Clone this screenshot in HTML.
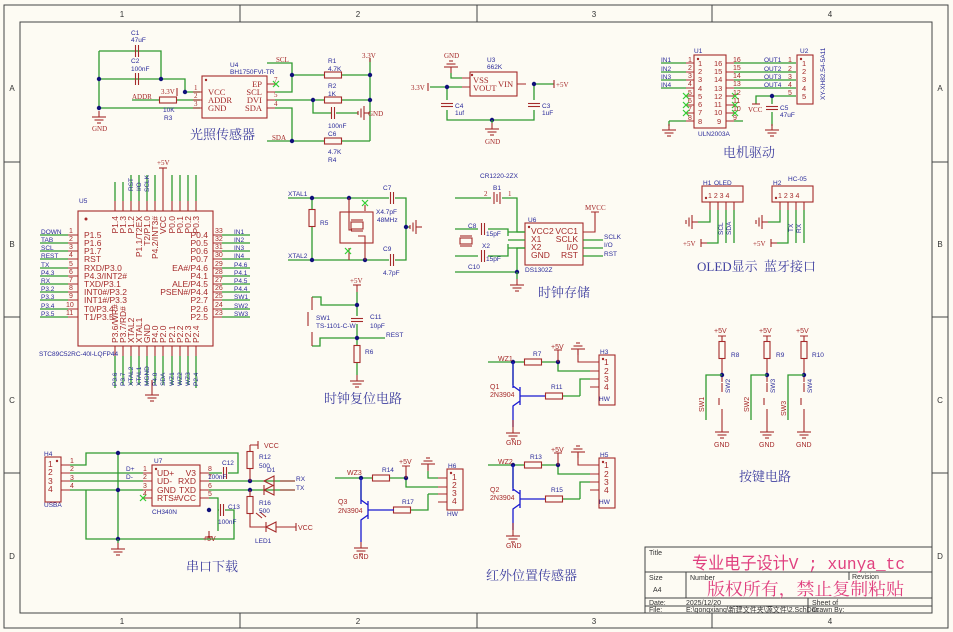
<!DOCTYPE html>
<html><head><meta charset="utf-8"><style>
html,body{margin:0;padding:0;background:#fdfbf3;}
svg{display:block}
.w{stroke:#2f9a2f;stroke-width:1.3;fill:none}
.r{stroke:#a52a2a;stroke-width:1.1;fill:none}
.rb{stroke:#a52a2a;stroke-width:1.1;fill:#fdfbf3}
.bl{stroke:#1a1ad0;stroke-width:1.3;fill:none}
text{font-family:"Liberation Sans","Noto Sans CJK SC",sans-serif}
.lb{fill:#2a2a9a;font-size:6.5px}
.pn{fill:#a52a2a;font-size:8.5px;font-family:"Liberation Serif",serif}
.ps{fill:#a52a2a;font-size:7.5px;font-family:"Liberation Serif",serif}
.pm{fill:#a52a2a;font-size:7px;font-family:"Liberation Serif",serif}
.nt{fill:#a52a2a;font-size:7px;font-family:"Liberation Serif",serif}
.ttl{fill:#4040a0;font-size:13px;font-family:"Liberation Serif","Noto Serif CJK SC",serif}
.fr{fill:#333;font-size:8px;font-family:"Liberation Serif",serif}
.x{stroke:#3c3;stroke-width:1.2}
</style></head><body>
<svg width="953" height="632" viewBox="0 0 953 632" xmlns="http://www.w3.org/2000/svg">
<defs>
<g id="gnd"><line class="r" x1="0" y1="-6" x2="0" y2="0"/><line class="r" x1="-7" y1="0" x2="7" y2="0"/><line class="r" x1="-4.5" y1="3" x2="4.5" y2="3"/><line class="r" x1="-2" y1="6" x2="2" y2="6"/></g>
<g id="gndl"><line class="r" x1="6" y1="0" x2="0" y2="0"/><line class="r" x1="0" y1="-7" x2="0" y2="7"/><line class="r" x1="-3" y1="-4.5" x2="-3" y2="4.5"/><line class="r" x1="-6" y1="-2" x2="-6" y2="2"/></g>
<g id="gndu"><line class="r" x1="0" y1="6" x2="0" y2="0"/><line class="r" x1="-7" y1="0" x2="7" y2="0"/><line class="r" x1="-4.5" y1="-3" x2="4.5" y2="-3"/><line class="r" x1="-2" y1="-6" x2="2" y2="-6"/></g>
<g id="hr"><rect class="rb" x="-8.5" y="-3" width="17" height="6"/></g>
<g id="vr"><rect class="rb" x="-3" y="-8.5" width="6" height="17"/></g>
<g id="hc"><line class="r" x1="-1.5" y1="-6" x2="-1.5" y2="6"/><line class="r" x1="1.5" y1="-6" x2="1.5" y2="6"/></g>
<g id="vc"><line class="r" x1="-6" y1="-1.5" x2="6" y2="-1.5"/><line class="r" x1="-6" y1="1.5" x2="6" y2="1.5"/></g>
<circle id="j" r="2.2" fill="#10107a"/>
<g id="xx"><line class="x" x1="-3" y1="-3" x2="3" y2="3"/><line class="x" x1="-3" y1="3" x2="3" y2="-3"/></g>
</defs>
<!-- frame -->
<rect x="4" y="5" width="944" height="623" fill="none" stroke="#444" stroke-width="1"/>
<rect x="20" y="22" width="912" height="591" fill="none" stroke="#444" stroke-width="1"/>
<g stroke="#444" stroke-width="1">
<line x1="240" y1="5" x2="240" y2="22"/><line x1="477" y1="5" x2="477" y2="22"/><line x1="712" y1="5" x2="712" y2="22"/>
<line x1="240" y1="613" x2="240" y2="628"/><line x1="477" y1="613" x2="477" y2="628"/><line x1="712" y1="613" x2="712" y2="628"/>
<line x1="4" y1="162" x2="20" y2="162"/><line x1="4" y1="317" x2="20" y2="317"/><line x1="4" y1="473" x2="20" y2="473"/>
<line x1="932" y1="162" x2="948" y2="162"/><line x1="932" y1="317" x2="948" y2="317"/><line x1="932" y1="473" x2="948" y2="473"/>
</g>
<g class="fr" text-anchor="middle">
<text x="122" y="17">1</text><text x="358" y="17">2</text><text x="594" y="17">3</text><text x="830" y="17">4</text>
<text x="122" y="624">1</text><text x="358" y="624">2</text><text x="594" y="624">3</text><text x="830" y="624">4</text>
<text x="12" y="91">A</text><text x="12" y="247">B</text><text x="12" y="403">C</text><text x="12" y="559">D</text>
<text x="940" y="91">A</text><text x="940" y="247">B</text><text x="940" y="403">C</text><text x="940" y="559">D</text>
</g>

<!-- ===== Light sensor ===== -->
<path class="w" d="M99,51H161V79M99,51V108H200M99,79H185V92H200M132,100H160M177,100H200"/>
<use href="#hc" x="137" y="51"/><use href="#hc" x="137" y="79"/>
<use href="#j" x="99" y="79"/><use href="#j" x="161" y="79"/><use href="#j" x="99" y="108"/><use href="#j" x="185" y="92"/>
<use href="#gnd" x="99" y="117"/><text class="nt" x="92" y="131">GND</text>
<text class="lb" x="131" y="35">C1</text><text class="lb" x="131" y="42">47uF</text>
<text class="lb" x="131" y="63">C2</text><text class="lb" x="131" y="71">100nF</text>
<text class="nt" x="132" y="99">ADDR</text>
<text class="nt" x="161" y="94">3.3V</text><line class="r" x1="177" y1="88" x2="177" y2="96"/>
<use href="#hr" x="168" y="100"/><text class="lb" x="163" y="112">10K</text><text class="lb" x="164" y="120">R3</text>
<rect class="r" x="202" y="76" width="65" height="42"/><circle cx="206" cy="80" r="1.2" fill="#a52a2a"/>
<path class="r" d="M193,92H202M193,100H202M193,108H202M267,84H275M267,92H275M267,100H275M267,108H275"/>
<text class="pm" x="194" y="90">1</text><text class="pm" x="194" y="98">2</text><text class="pm" x="194" y="106">3</text>
<text class="pn" x="208" y="95">VCC</text><text class="pn" x="208" y="103">ADDR</text><text class="pn" x="208" y="111">GND</text>
<text class="pn" x="262" y="87" text-anchor="end">EP</text><text class="pn" x="262" y="95" text-anchor="end">SCL</text><text class="pn" x="262" y="103" text-anchor="end">DVI</text><text class="pn" x="262" y="111" text-anchor="end">SDA</text>
<text class="pm" x="274" y="82">7</text><text class="pm" x="274" y="97">5</text><text class="pm" x="274" y="106">4</text>
<use href="#xx" x="276" y="84"/>
<text class="lb" x="230" y="67">U4</text><text class="lb" x="230" y="74">BH1750FVI-TR</text>
<path class="w" d="M267,63H292V92H275M292,75H325M342,75H370M275,100H325M342,100H370M313,100V113H331M336,113H358M267,141H325M342,141H370M292,141V108H275M370,58V141"/>
<use href="#hr" x="333" y="75"/><use href="#hr" x="333" y="100"/><use href="#hr" x="333" y="141"/><use href="#hc" x="333" y="113"/>
<use href="#j" x="292" y="75"/><use href="#j" x="370" y="75"/><use href="#j" x="313" y="100"/><use href="#j" x="370" y="100"/><use href="#j" x="292" y="141"/>
<use href="#gndl" x="364" y="113"/><text class="nt" x="368" y="116">GND</text>
<text class="nt" x="276" y="62">SCL</text><text class="nt" x="272" y="140">SDA</text>
<text class="nt" x="362" y="58">3.3V</text><line class="r" x1="370" y1="58" x2="370" y2="62"/>
<text class="lb" x="328" y="63">R1</text><text class="lb" x="328" y="71">4.7K</text>
<text class="lb" x="328" y="88">R2</text><text class="lb" x="328" y="96">1K</text>
<text class="lb" x="328" y="128">100nF</text><text class="lb" x="328" y="136">C6</text>
<text class="lb" x="328" y="154">4.7K</text><text class="lb" x="328" y="162">R4</text>
<text class="ttl" x="190" y="139">光照传感器</text>

<!-- ===== U3 regulator ===== -->
<use href="#gndu" x="451" y="67"/><text class="nt" x="444" y="58">GND</text>
<path class="w" d="M451,73V78H462M430,87H462M447,87V100M447,110V120H534V110M534,100V84H554"/>
<path class="r" d="M462,78H470M462,87H470M517,84H526"/>
<line class="r" x1="428" y1="83" x2="428" y2="91"/><text class="nt" x="411" y="90">3.3V</text>
<use href="#vc" x="447" y="105"/><use href="#vc" x="534" y="105"/>
<use href="#j" x="447" y="87"/><use href="#j" x="534" y="84"/><use href="#j" x="492" y="120"/>
<use href="#gnd" x="492" y="129"/><line class="w" x1="492" y1="120" x2="492" y2="123"/><text class="nt" x="485" y="144">GND</text>
<rect class="r" x="470" y="72" width="47" height="24"/><circle cx="472" cy="75" r="1.2" fill="#a52a2a"/>
<text class="pn" x="473" y="83">VSS</text><text class="pn" x="473" y="91">VOUT</text><text class="pn" x="498" y="87">VIN</text>
<line class="r" x1="554" y1="80" x2="554" y2="88"/><text class="nt" x="556" y="87">+5V</text>
<text class="lb" x="487" y="62">U3</text><text class="lb" x="487" y="69">662K</text>
<text class="lb" x="542" y="108">C3</text><text class="lb" x="542" y="115">1uF</text>
<text class="lb" x="455" y="108">C4</text><text class="lb" x="455" y="115">1uf</text>

<!-- ===== ULN2003 ===== -->
<rect class="r" x="694" y="55" width="32" height="73"/><circle cx="698" cy="59" r="1.2" fill="#a52a2a"/>
<path class="w" d="M661,63H686M661,72H686M661,80H686M661,88H686M669,121H686M734,63H796M734,72H796M734,80H796M734,88H796M734,121H743M756,104V96H796"/>
<path class="r" d="M686,63H694M686,72H694M686,80H694M686,88H694M686,96H694M686,105H694M686,113H694M686,121H694M726,63H734M726,72H734M726,80H734M726,88H734M726,96H734M726,105H734M726,113H734M726,121H734"/>
<use href="#xx" x="686" y="96"/><use href="#xx" x="686" y="105"/><use href="#xx" x="686" y="113"/>
<use href="#xx" x="735" y="96"/><use href="#xx" x="735" y="105"/><use href="#xx" x="735" y="113"/>
<path class="w" d="M669,121V126"/><use href="#gnd" x="669" y="130"/>
<g class="pm"><text x="688" y="62">1</text><text x="688" y="70">2</text><text x="688" y="78">3</text><text x="688" y="86">4</text><text x="688" y="95">5</text><text x="688" y="103">6</text><text x="688" y="111">7</text><text x="688" y="120">8</text>
<text x="733" y="62">16</text><text x="733" y="70">15</text><text x="733" y="78">14</text><text x="733" y="86">13</text><text x="733" y="95">12</text><text x="733" y="103">11</text><text x="733" y="111">10</text><text x="733" y="120">9</text></g>
<g class="ps"><text x="698" y="66">1</text><text x="698" y="74">2</text><text x="698" y="82">3</text><text x="698" y="91">4</text><text x="698" y="99">5</text><text x="698" y="107">6</text><text x="698" y="115">7</text><text x="698" y="124">8</text>
<text x="714" y="66">16</text><text x="714" y="74">15</text><text x="714" y="82">14</text><text x="714" y="91">13</text><text x="714" y="99">12</text><text x="714" y="107">11</text><text x="714" y="115">10</text><text x="717" y="124">9</text></g>
<g class="lb"><text x="661" y="62">IN1</text><text x="661" y="71">IN2</text><text x="661" y="79">IN3</text><text x="661" y="87">IN4</text>
<text x="764" y="62">OUT1</text><text x="764" y="71">OUT2</text><text x="764" y="79">OUT3</text><text x="764" y="87">OUT4</text>
<text x="694" y="53">U1</text><text x="698" y="136">ULN2003A</text><text x="800" y="53">U2</text></g>
<rect class="r" x="797" y="55" width="16" height="49"/><circle cx="801" cy="59" r="1.2" fill="#a52a2a"/>
<g class="pm"><text x="788" y="62">1</text><text x="788" y="71">2</text><text x="788" y="79">3</text><text x="788" y="87">4</text><text x="788" y="95">5</text></g>
<g class="ps"><text x="802" y="66">1</text><text x="802" y="74">2</text><text x="802" y="82">3</text><text x="802" y="91">4</text><text x="802" y="99">5</text></g>
<path class="w" d="M772,96V104M772,112V126"/><use href="#vc" x="772" y="108"/><use href="#j" x="772" y="96"/><use href="#gnd" x="772" y="130"/>
<line class="r" x1="752" y1="104" x2="760" y2="104"/><text class="nt" x="748" y="112">VCC</text>
<text class="lb" x="780" y="110">C5</text><text class="lb" x="780" y="117">47uF</text>
<text class="lb" transform="translate(825,100) rotate(-90)">XY-XH82.54-5A11</text>
<text class="ttl" x="723" y="157">电机驱动</text>

<!-- ===== DS1302 ===== -->
<text class="lb" x="480" y="178">CR1220-2ZX</text><text class="lb" x="493" y="190">B1</text>
<path class="w" d="M455,198H491M502,198H517V232H525M455,272H517V248H525"/>
<line class="r" x1="494" y1="192" x2="494" y2="204"/><line class="r" x1="497" y1="194" x2="497" y2="202"/><line class="r" x1="500" y1="192" x2="500" y2="204"/>
<text class="pm" x="484" y="196">2</text><text class="pm" x="508" y="196">1</text>
<rect class="r" x="525" y="223" width="58" height="42"/><circle cx="529" cy="227" r="1.2" fill="#a52a2a"/>
<g class="pn"><text x="531" y="234">VCC2</text><text x="531" y="242">X1</text><text x="531" y="250">X2</text><text x="531" y="258">GND</text>
<text x="578" y="234" text-anchor="end">VCC1</text><text x="578" y="242" text-anchor="end">SCLK</text><text x="578" y="250" text-anchor="end">I/O</text><text x="578" y="258" text-anchor="end">RST</text></g>
<path class="w" d="M583,240H603M583,248H603M583,256H603M508,232H525M508,240H525M508,248H525"/>
<path class="r" d="M583,232H595V212M591,212H599"/>
<text class="nt" x="585" y="210">MVCC</text>
<g class="lb"><text x="604" y="239">SCLK</text><text x="604" y="247">I/O</text><text x="604" y="256">RST</text><text x="528" y="222">U6</text><text x="525" y="272">DS1302Z</text>
<text x="468" y="228">C8</text><text x="486" y="236">15pF</text><text x="486" y="261">15pF</text><text x="468" y="269">C10</text><text x="482" y="248">X2</text></g>
<path class="w" d="M455,229H478M488,229H508V236M455,256H478M488,256H508V244"/>
<use href="#hc" x="483" y="229"/><use href="#hc" x="483" y="256"/>
<rect class="rb" x="460" y="238" width="12" height="6"/><line class="r" x1="460" y1="236" x2="472" y2="236"/><line class="r" x1="460" y1="246" x2="472" y2="246"/>
<use href="#j" x="517" y="272"/><path class="w" d="M517,272V279"/><use href="#gnd" x="517" y="285"/>
<text class="ttl" x="538" y="297">时钟存储</text>

<!-- OLED / HC-05 -->
<rect class="r" x="702" y="186" width="41" height="16"/><circle cx="706" cy="198" r="1.2" fill="#a52a2a"/>
<rect class="r" x="772" y="186" width="41" height="16"/><circle cx="776" cy="198" r="1.2" fill="#a52a2a"/>
<g class="pm"><text x="708" y="198">1 2 3 4</text><text x="778" y="198">1 2 3 4</text></g>
<path class="r" d="M710,202V210M718,202V210M726,202V210M734,202V210M780,202V210M788,202V210M796,202V210M804,202V210"/>
<path class="w" d="M710,210V222H698M718,210V243H707M726,210V243M734,210V243M780,210V222H768M788,210V243H777M796,210V243M804,210V243"/>
<use href="#gndl" x="692" y="222"/><use href="#gndl" x="762" y="222"/>
<line class="r" x1="701" y1="239" x2="701" y2="247"/><line class="r" x1="701" y1="243" x2="707" y2="243"/>
<line class="r" x1="771" y1="239" x2="771" y2="247"/><line class="r" x1="771" y1="243" x2="777" y2="243"/>
<text class="nt" x="683" y="246">+5V</text><text class="nt" x="753" y="246">+5V</text>
<g class="lb"><text x="703" y="185">H1</text><text x="714" y="185">OLED</text><text x="773" y="185">H2</text><text x="788" y="181">HC-05</text>
<text transform="translate(723,235) rotate(-90)">SCL</text><text transform="translate(731,235) rotate(-90)">SDA</text>
<text transform="translate(793,232) rotate(-90)">TX</text><text transform="translate(801,233) rotate(-90)">RX</text></g>
<text class="ttl" x="697" y="271">OLED显示</text><text class="ttl" x="764" y="271">蓝牙接口</text>

<!-- ===== MCU U5 ===== -->
<rect class="r" x="78" y="211" width="135" height="135"/><circle cx="86" cy="219" r="1.5" fill="#a52a2a"/>
<g class="w">
<path d="M40,235H68M40,243H68M40,251H68M40,259H68M40,268H68M40,276H68M40,284H68M40,292H68M40,300H68M40,309H68M40,317H68"/>
<path d="M222,235H250M222,243H250M222,251H250M222,259H250M222,268H250M222,276H250M222,284H250M222,292H250M222,300H250M222,309H250M222,317H250"/>
<path d="M115,182V201M123,182V201M131,175V201M139,175V201M147,175V201M155,175V201M172,175V201M180,175V201M188,175V201M196,175V201M115,356V385M123,356V385M131,356V385M139,356V385M147,356V385M155,356V385M163,356V385M172,356V385M180,356V385M188,356V385M196,356V385"/>
</g>
<path class="r" d="M68,235H78M68,243H78M68,251H78M68,259H78M68,268H78M68,276H78M68,284H78M68,292H78M68,300H78M68,309H78M68,317H78M213,235H222M213,243H222M213,251H222M213,259H222M213,268H222M213,276H222M213,284H222M213,292H222M213,300H222M213,309H222M213,317H222M115,201V211M123,201V211M131,201V211M139,201V211M147,201V211M155,201V211M163,168V211M172,201V211M180,201V211M188,201V211M196,201V211M115,346V356M123,346V356M131,346V356M139,346V356M147,346V356M155,346V356M163,346V356M172,346V356M180,346V356M188,346V356M196,346V356"/>
<line class="r" x1="159" y1="168" x2="167" y2="168"/><text class="nt" x="157" y="165">+5V</text>
<path class="w" d="M115,385V388M196,385V388"/><path class="r" d="M152,380V389"/><use href="#gnd" x="152" y="395"/>
<g class="lb">
<text x="41" y="234">DOWN</text><text x="41" y="242">TAB</text><text x="41" y="250">SCL</text><text x="41" y="258">REST</text><text x="41" y="267">TX</text><text x="41" y="275">P4.3</text><text x="41" y="283">RX</text><text x="41" y="291">P3.2</text><text x="41" y="299">P3.3</text><text x="41" y="308">P3.4</text><text x="41" y="316">P3.5</text>
<text x="234" y="234">IN1</text><text x="234" y="242">IN2</text><text x="234" y="250">IN3</text><text x="234" y="258">IN4</text><text x="234" y="267">P4.6</text><text x="234" y="275">P4.1</text><text x="234" y="283">P4.5</text><text x="234" y="291">P4.4</text><text x="234" y="299">SW1</text><text x="234" y="308">SW2</text><text x="234" y="316">SW3</text>
<text x="79" y="203">U5</text><text x="39" y="356">STC89C52RC-40I-LQFP44</text>
<text transform="translate(133,191) rotate(-90)">RST</text><text transform="translate(141,191) rotate(-90)">I/O</text><text transform="translate(149,192) rotate(-90)">SCLK</text>
<text transform="translate(117,386) rotate(-90)">P3.6</text><text transform="translate(125,386) rotate(-90)">P3.7</text><text transform="translate(133,386) rotate(-90)">XTAL2</text><text transform="translate(141,386) rotate(-90)">XTAL1</text><text transform="translate(149,386) rotate(-90)">MGND</text><text transform="translate(157,386) rotate(-90)">P4.0</text><text transform="translate(165,386) rotate(-90)">SDA</text><text transform="translate(174,386) rotate(-90)">WZ1</text><text transform="translate(182,386) rotate(-90)">WZ2</text><text transform="translate(190,386) rotate(-90)">WZ3</text><text transform="translate(198,386) rotate(-90)">P2.4</text>
</g>
<g class="pm">
<text x="69" y="233">1</text><text x="69" y="241">2</text><text x="69" y="249">3</text><text x="69" y="257">4</text><text x="69" y="266">5</text><text x="69" y="274">6</text><text x="69" y="282">7</text><text x="69" y="290">8</text><text x="69" y="298">9</text><text x="66" y="307">10</text><text x="66" y="315">11</text>
<text x="215" y="233">33</text><text x="215" y="241">32</text><text x="215" y="249">31</text><text x="215" y="257">30</text><text x="215" y="266">29</text><text x="215" y="274">28</text><text x="215" y="282">27</text><text x="215" y="290">26</text><text x="215" y="298">25</text><text x="215" y="307">24</text><text x="215" y="315">23</text>
</g>
<g class="pn">
<text x="84" y="238">P1.5</text><text x="84" y="246">P1.6</text><text x="84" y="254">P1.7</text><text x="84" y="262">RST</text><text x="84" y="271">RXD/P3.0</text><text x="84" y="279">P4.3/INT2#</text><text x="84" y="287">TXD/P3.1</text><text x="84" y="295">INT0#/P3.2</text><text x="84" y="303">INT1#/P3.3</text><text x="84" y="312">T0/P3.4</text><text x="84" y="320">T1/P3.5</text>
<g text-anchor="end"><text x="208" y="238">P0.4</text><text x="208" y="246">P0.5</text><text x="208" y="254">P0.6</text><text x="208" y="262">P0.7</text><text x="208" y="271">EA#/P4.6</text><text x="208" y="279">P4.1</text><text x="208" y="287">ALE/P4.5</text><text x="208" y="295">PSEN#/P4.4</text><text x="208" y="303">P2.7</text><text x="208" y="312">P2.6</text><text x="208" y="320">P2.5</text></g>
<g text-anchor="end"><text transform="translate(118,216) rotate(-90)">P1.4</text><text transform="translate(126,216) rotate(-90)">P1.3</text><text transform="translate(134,216) rotate(-90)">P1.2</text><text transform="translate(142,216) rotate(-90)">P1.1/T2EX</text><text transform="translate(150,216) rotate(-90)">T2/P1.0</text><text transform="translate(158,216) rotate(-90)">P4.2/INT3#</text><text transform="translate(166,216) rotate(-90)">VCC</text><text transform="translate(175,216) rotate(-90)">P0.0</text><text transform="translate(183,216) rotate(-90)">P0.1</text><text transform="translate(191,216) rotate(-90)">P0.2</text><text transform="translate(199,216) rotate(-90)">P0.3</text></g>
<text transform="translate(118,343) rotate(-90)">P3.6/WR#</text><text transform="translate(126,343) rotate(-90)">P3.7/RD#</text><text transform="translate(134,343) rotate(-90)">XTAL2</text><text transform="translate(142,343) rotate(-90)">XTAL1</text><text transform="translate(150,343) rotate(-90)">GND</text><text transform="translate(158,343) rotate(-90)">P4.0</text><text transform="translate(166,343) rotate(-90)">P2.0</text><text transform="translate(175,343) rotate(-90)">P2.1</text><text transform="translate(183,343) rotate(-90)">P2.2</text><text transform="translate(191,343) rotate(-90)">P2.3</text><text transform="translate(199,343) rotate(-90)">P2.4</text>
</g>

<!-- ===== Crystal ===== -->
<path class="w" d="M288,198H389M395,198H406V260H395M389,260H288M312,198V210M312,227V260M406,227H410"/>
<use href="#hc" x="392" y="198"/><use href="#hc" x="392" y="260"/><use href="#vr" x="312" y="218"/>
<use href="#j" x="312" y="198"/><use href="#j" x="349" y="198"/><use href="#j" x="312" y="260"/><use href="#j" x="365" y="260"/><use href="#j" x="406" y="227"/>
<use href="#gndl" x="416" y="227"/>
<rect class="r" x="340" y="212" width="33" height="31"/>
<path class="r" d="M349,198V230H352M365,260V236H358M365,205V211M349,248V260"/>
<rect class="rb" x="351" y="222" width="12" height="7"/><line class="r" x1="351" y1="220" x2="363" y2="220"/><line class="r" x1="351" y1="231" x2="363" y2="231"/>
<use href="#xx" x="365" y="203"/><use href="#xx" x="348" y="251"/>
<g class="lb"><text x="288" y="196">XTAL1</text><text x="288" y="258">XTAL2</text><text x="320" y="225">R5</text><text x="383" y="190">C7</text><text x="376" y="214">X4.7pF</text><text x="377" y="222">48MHz</text><text x="383" y="251">C9</text><text x="383" y="275">4.7pF</text></g>

<!-- ===== Reset ===== -->
<line class="r" x1="353" y1="285" x2="361" y2="285"/><text class="nt" x="350" y="283">+5V</text>
<path class="r" d="M357,285V292"/>
<path class="w" d="M357,292V316M357,324V346M357,305H321V297H312M312,346H320V338H385M357,363V375"/>
<use href="#vc" x="357" y="320"/><use href="#vr" x="357" y="354"/><use href="#j" x="357" y="305"/><use href="#j" x="357" y="338"/>
<path class="r" d="M312,297V310M312,332V346M308,312V326"/>
<use href="#gnd" x="357" y="381"/>
<g class="lb"><text x="316" y="320">SW1</text><text x="316" y="328">TS-1101-C-W</text><text x="370" y="319">C11</text><text x="370" y="328">10pF</text><text x="386" y="337">REST</text><text x="365" y="354">R6</text></g>
<text class="ttl" x="324" y="403">时钟复位电路</text>

<!-- ===== Keys ===== -->
<g>
<path class="r" d="M718,336H726M722,336V342M722,358V382M722,383V392M722,409V426M719,398V405"/>
<use href="#vr" x="722" y="350"/><use href="#j" x="722" y="375"/><path class="w" d="M722,375H706V420"/><use href="#gnd" x="722" y="432"/>
<path class="r" d="M763,336H771M767,336V342M767,358V382M767,383V392M767,409V426M764,398V405"/>
<use href="#vr" x="767" y="350"/><use href="#j" x="767" y="375"/><path class="w" d="M767,375H751V420"/><use href="#gnd" x="767" y="432"/>
<path class="r" d="M800,336H808M804,336V342M804,358V382M804,383V392M804,409V426M801,398V405"/>
<use href="#vr" x="804" y="350"/><use href="#j" x="804" y="375"/><path class="w" d="M804,375H788V420"/><use href="#gnd" x="804" y="432"/>
<g class="nt"><text x="714" y="333">+5V</text><text x="759" y="333">+5V</text><text x="796" y="333">+5V</text><text x="714" y="447">GND</text><text x="759" y="447">GND</text><text x="796" y="447">GND</text>
<text transform="translate(704,412) rotate(-90)">SW1</text><text transform="translate(749,412) rotate(-90)">SW2</text><text transform="translate(786,416) rotate(-90)">SW3</text></g>
<g class="lb"><text x="731" y="357">R8</text><text x="776" y="357">R9</text><text x="812" y="357">R10</text>
<text transform="translate(730,393) rotate(-90)">SW2</text><text transform="translate(775,393) rotate(-90)">SW3</text><text transform="translate(812,393) rotate(-90)">SW4</text></g>
</g>
<text class="ttl" x="739" y="481">按键电路</text>

<!-- ===== IR sensors ===== -->
<g id="ir1">
<path class="w" d="M488,362H525M542,362H558V371H590M513,362V385M580,396H563M580,396V379H590"/>
<use href="#hr" x="533" y="362"/><use href="#hr" x="554" y="396"/><use href="#j" x="513" y="362"/><use href="#j" x="558" y="362"/>
<path class="r" d="M558,350V362M554,350H562M578,350V362H590"/><use href="#gndu" x="578" y="349"/>
<path class="r" d="M590,362H599M590,371H599M590,379H599M590,387H599"/>
<rect class="r" x="599" y="355" width="16" height="50"/><circle cx="603" cy="359" r="1.2" fill="#a52a2a"/>
<g class="pn"><text x="604" y="365">1</text><text x="604" y="374">2</text><text x="604" y="382">3</text><text x="604" y="390">4</text></g>
<path class="bl" d="M513,362V388M520,387V405M520,396H545M520,391L513,386M520,401L513,406V427"/>
<path class="r" d="M513,420V427"/><use href="#gnd" x="513" y="433"/>
</g>
<use href="#ir1" x="0" y="103"/>
<g class="nt"><text x="498" y="361">WZ1</text><text x="498" y="464">WZ2</text><text x="551" y="349">+5V</text><text x="551" y="452">+5V</text><text x="506" y="445">GND</text><text x="506" y="548">GND</text>
<text x="490" y="389">Q1</text><text x="490" y="397">2N3904</text><text x="490" y="492">Q2</text><text x="490" y="500">2N3904</text></g>
<g class="lb"><text x="533" y="356">R7</text><text x="551" y="389">R11</text><text x="530" y="459">R13</text><text x="551" y="492">R15</text>
<text x="600" y="354">H3</text><text x="599" y="401">HW</text><text x="600" y="457">H5</text><text x="599" y="504">HW</text></g>
<text class="ttl" x="486" y="580">红外位置传感器</text>

<!-- Q3 -->
<path class="w" d="M335,478H373M390,478H406V487H438M428,471V478H438M428,494V510H411M428,494H438M361,478V500"/>
<use href="#hr" x="381" y="478"/><use href="#hr" x="402" y="510"/><use href="#j" x="361" y="478"/><use href="#j" x="406" y="478"/>
<path class="r" d="M406,466V478M402,466H410M428,471V465"/><use href="#gndu" x="428" y="464"/>
<path class="r" d="M438,478H447M438,487H447M438,494H447M438,502H447"/>
<rect class="r" x="447" y="469" width="16" height="41"/><circle cx="451" cy="473" r="1.2" fill="#a52a2a"/>
<g class="pn"><text x="452" y="480">1</text><text x="452" y="488">2</text><text x="452" y="496">3</text><text x="452" y="504">4</text></g>
<path class="bl" d="M361,478V504M368,501V519M368,510H394M368,505L361,500M368,515L361,520V542"/>
<use href="#gnd" x="361" y="548"/>
<g class="nt"><text x="347" y="475">WZ3</text><text x="399" y="464">+5V</text><text x="338" y="504">Q3</text><text x="338" y="513">2N3904</text><text x="353" y="559">GND</text></g>
<g class="lb"><text x="382" y="472">R14</text><text x="402" y="504">R17</text><text x="448" y="468">H6</text><text x="447" y="516">HW</text></g>

<!-- ===== Serial ===== -->
<rect class="r" x="45" y="457" width="16" height="45"/><circle cx="57" cy="461" r="1.2" fill="#a52a2a"/>
<g class="pn"><text x="48" y="467">1</text><text x="48" y="475">2</text><text x="48" y="484">3</text><text x="48" y="492">4</text></g>
<g class="pm"><text x="70" y="463">1</text><text x="70" y="471">2</text><text x="70" y="480">3</text><text x="70" y="488">4</text>
<text x="143" y="471">1</text><text x="143" y="479">2</text><text x="143" y="488">3</text><text x="143" y="496">4</text>
<text x="208" y="471">8</text><text x="208" y="479">7</text><text x="208" y="488">6</text><text x="208" y="496">5</text></g>
<path class="r" d="M61,465H70M61,473H70M61,481H70M61,490H70M143,473H152M143,481H152M143,490H152M143,498H152M200,473H209M200,481H209M200,490H209M200,498H209"/>
<path class="w" d="M70,465H86V453H238V473H228M222,473H209M70,473H143M70,481H143M70,490H86V539H234V510H225M86,490H143M118,453V539M209,481H295M209,490H295M209,498H218V531M218,510H219"/>
<use href="#hc" x="225" y="473"/><use href="#hc" x="222" y="510"/>
<use href="#j" x="118" y="453"/><use href="#j" x="118" y="490"/><use href="#j" x="118" y="539"/><use href="#j" x="250" y="481"/><use href="#j" x="250" y="490"/><use href="#j" x="209" y="510"/>
<use href="#xx" x="143" y="498"/><use href="#gnd" x="118" y="549"/><path class="w" d="M118,539V543"/>
<rect class="r" x="152" y="465" width="48" height="41"/><circle cx="156" cy="469" r="1.2" fill="#a52a2a"/>
<g class="pn"><text x="157" y="476">UD+</text><text x="157" y="484">UD-</text><text x="157" y="493">GND</text><text x="157" y="501">RTS#</text>
<text x="196" y="476" text-anchor="end">V3</text><text x="196" y="484" text-anchor="end">RXD</text><text x="196" y="493" text-anchor="end">TXD</text><text x="196" y="501" text-anchor="end">VCC</text></g>
<path class="r" d="M209,531V537M205,537H213M250,445V453M250,468V481M250,490V498M250,513V527H266M276,527H296M258,441V449M250,445H258M296,523V531"/>
<use href="#vr" x="250" y="460"/><use href="#vr" x="250" y="505"/>
<path class="r" d="M264,481L274,476V486ZM274,476V486M264,490L274,485V495ZM264,485V495M276,522V532L266,527Z M266,522V532M280,481H295M280,490H295"/>
<line class="r" x1="262" y1="518" x2="256" y2="513"/><line class="r" x1="266" y1="517" x2="260" y2="512"/>
<g class="nt"><text x="264" y="448">VCC</text><text x="298" y="530">VCC</text><text x="203" y="541">+5V</text></g>
<g class="lb"><text x="44" y="456">H4</text><text x="44" y="507">USBA</text><text x="126" y="471">D+</text><text x="126" y="479">D-</text><text x="154" y="463">U7</text><text x="152" y="514">CH340N</text>
<text x="222" y="465">C12</text><text x="208" y="479">100nF</text><text x="228" y="509">C13</text><text x="218" y="524">100nF</text>
<text x="259" y="459">R12</text><text x="259" y="468">500</text><text x="267" y="472">D1</text><text x="259" y="505">R16</text><text x="259" y="513">500</text><text x="255" y="543">LED1</text><text x="296" y="481">RX</text><text x="296" y="490">TX</text></g>
<text class="ttl" x="186" y="571">串口下载</text>

<!-- ===== Title block ===== -->
<g stroke="#444" stroke-width="1" fill="none">
<rect x="645" y="547" width="287" height="66"/>
<line x1="645" y1="572" x2="932" y2="572"/><line x1="645" y1="598" x2="932" y2="598"/><line x1="645" y1="606" x2="932" y2="606"/>
<line x1="686" y1="572" x2="686" y2="598"/><line x1="849" y1="572" x2="849" y2="580"/><line x1="808" y1="598" x2="808" y2="613"/>
</g>
<g class="fr" style="font-size:7px"><text x="649" y="555">Title</text><text x="649" y="580">Size</text><text x="653" y="592">A4</text><text x="690" y="580">Number</text><text x="852" y="579">Revision</text>
<text x="649" y="605">Date:</text><text x="686" y="605">2025/12/20</text><text x="812" y="605">Sheet    of</text><text x="649" y="612">File:</text><text x="686" y="612">E:\gongxiang\新建文件夹\源文件\2.SchDoc</text><text x="812" y="612">Drawn By:</text></g>
<text x="692" y="569" textLength="213" lengthAdjust="spacingAndGlyphs" style="font-family:'Liberation Mono','Noto Sans CJK SC',monospace;font-size:17px;fill:#e0407f">专业电子设计V ; xunya_tc</text>
<text x="707" y="595" textLength="197" lengthAdjust="spacingAndGlyphs" style="font-family:'Liberation Serif','Noto Serif CJK SC',serif;font-size:17px;fill:#e0407f">版权所有，禁止复制粘贴</text>
</svg>
</body></html>
